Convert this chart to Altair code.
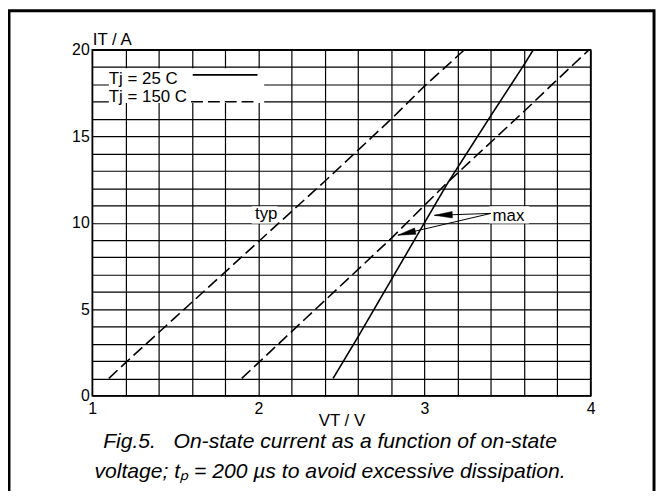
import math
import altair as alt
import pandas as pd

# ---------------- data ----------------
# Tj = 150 C, typical (dashed)
typ150_v = [1.10, 1.20, 1.60, 2.00, 2.40, 2.80, 3.00, 3.24]
typ150_i = [1.0, 1.9, 5.4, 8.9, 12.4, 16.0, 17.9, 20.0]
# Tj = 150 C, maximum (dashed)
max150_v = [1.90, 2.00, 2.20, 2.40, 2.80, 3.13, 3.60, 3.78, 3.99]
max150_i = [1.0, 1.9, 3.7, 5.5, 9.1, 12.25, 16.45, 18.1, 20.0]
# Tj = 25 C, maximum (solid)
max25_v = [2.45, 2.60, 2.80, 3.00, 3.14, 3.40, 3.60, 3.655]
max25_i = [1.0, 3.4, 6.7, 10.0, 12.3, 16.2, 19.15, 20.0]

x_ticks = [round(1 + 0.2 * k, 1) for k in range(16)]
y_ticks = list(range(0, 21))

legend_labels = ["Tj = 25 C", "Tj = 150 C"]
caption_lines = [
    "Fig.5.\u00a0\u00a0\u00a0On-state current as a function of on-state",
    "voltage; t\u209a = 200 \u00b5s to avoid excessive dissipation.",
]

FONT = "Liberation Sans"
W, H = 503, 349
X0, X1, Y0, Y1 = 1.0, 4.0, 0.0, 20.0
PX_V = W / (X1 - X0)
PX_A = H / (Y1 - Y0)

xs = alt.Scale(domain=[X0, X1], nice=False, zero=False)
ys = alt.Scale(domain=[Y0, Y1], nice=False, zero=False)

x_axis = alt.Axis(
    values=x_ticks,
    labelExpr="abs(datum.value - round(datum.value)) < 0.001 ? format(datum.value, 'd') : ''",
    labelFont=FONT, labelFontSize=16, labelColor="black", labelPadding=5,
    labelOverlap=False, labelFlush=False,
    ticks=False, domain=False,
    grid=True, gridColor="black", gridWidth=1.2, gridOpacity=1,
    title="VT / V", titleFont=FONT, titleFontSize=17, titleFontWeight="normal",
    titleColor="black", titlePadding=-4,
)
y_axis = alt.Axis(
    values=y_ticks,
    labelExpr="datum.value % 5 == 0 ? format(datum.value, 'd') : ''",
    labelFont=FONT, labelFontSize=16, labelColor="black", labelPadding=3,
    labelOverlap=False, labelFlush=False,
    ticks=False, domain=False,
    grid=True, gridColor="black", gridWidth=1.2, gridOpacity=1,
    title="IT / A", titleFont=FONT, titleFontSize=17, titleFontWeight="normal",
    titleColor="black", titleAngle=0, titleAlign="left", titleBaseline="alphabetic",
    titleX=0, titleY=-5,
)


def X(f):
    return alt.X(f, scale=xs, axis=x_axis)


def Y(f):
    return alt.Y(f, scale=ys, axis=y_axis)


rows = []
for name, dash, vv, ii in [
    ("typ150", "dashed", typ150_v, typ150_i),
    ("max150", "dashed", max150_v, max150_i),
    ("max25", "solid", max25_v, max25_i),
]:
    for v, i in zip(vv, ii):
        rows.append({"curve": name, "dash": dash, "V": v, "I": i})
curves_df = pd.DataFrame(rows)

# white masks behind texts (cover grid)
mask_df = pd.DataFrame({
    "v1": [1.10, 1.96, 3.39],
    "v2": [2.035, 2.115, 3.63],
    "i1": [16.93, 9.95, 9.95],
    "i2": [18.93, 10.95, 10.95],
})
masks = alt.Chart(mask_df).mark_rect(fill="white").encode(
    x=X("v1:Q"), x2="v2:Q", y=Y("i1:Q"), y2="i2:Q",
)

dash_scale = alt.Scale(domain=["solid", "dashed"], range=[[1, 0], [12, 5]])
lines = alt.Chart(curves_df).mark_line(color="black", strokeWidth=1.6).encode(
    x=X("V:Q"), y=Y("I:Q"), detail="curve:N",
    strokeDash=alt.StrokeDash("dash:N", scale=dash_scale, legend=None),
)

# legend (drawn in data space)
leg_text_df = pd.DataFrame({"label": legend_labels, "v": [1.10, 1.10], "i": [18.0, 17.0]})
leg_text = alt.Chart(leg_text_df).mark_text(
    font=FONT, fontSize=17, align="left", baseline="alphabetic", color="black"
).encode(x=X("v:Q"), y=Y("i:Q"), text="label:N")

leg_line_df = pd.DataFrame({
    "v": [1.605, 1.995, 1.595, 1.99],
    "i": [18.55, 18.55, 17.0, 17.0],
    "item": ["a", "a", "b", "b"],
    "dash": ["solid", "solid", "dashed", "dashed"],
})
leg_dash_scale = alt.Scale(domain=["solid", "dashed"], range=[[1, 0], [14, 7]])
leg_lines = alt.Chart(leg_line_df).mark_line(color="black", strokeWidth=1.6).encode(
    x=X("v:Q"), y=Y("i:Q"), detail="item:N",
    strokeDash=alt.StrokeDash("dash:N", scale=leg_dash_scale, legend=None),
)

# annotations
ann_df = pd.DataFrame({"label": ["typ", "max"], "v": [1.98, 3.41], "i": [10.2, 10.1]})
ann_text = alt.Chart(ann_df).mark_text(
    font=FONT, fontSize=17, align="left", baseline="alphabetic", color="black"
).encode(x=X("v:Q"), y=Y("i:Q"), text="label:N")

arrow_start = (3.40, 10.54)
arrow_tips = [(3.06, 10.43), (2.84, 9.28)]
shaft_rows, head_rows = [], []
for k, (tv, ti) in enumerate(arrow_tips):
    shaft_rows.append({"a": k, "v": arrow_start[0], "i": arrow_start[1]})
    shaft_rows.append({"a": k, "v": tv, "i": ti})
    dx = (tv - arrow_start[0]) * PX_V
    dy = -(ti - arrow_start[1]) * PX_A
    ang = math.degrees(math.atan2(dy, dx)) % 360
    head_rows.append({"v": tv, "i": ti, "ang": ang})
shafts = alt.Chart(pd.DataFrame(shaft_rows)).mark_line(color="black", strokeWidth=1).encode(
    x=X("v:Q"), y=Y("i:Q"), detail="a:N", order="v:Q"
)
heads = alt.Chart(pd.DataFrame(head_rows)).mark_point(
    shape="M0,0 L-2,-0.36 L-2,0.36 Z", size=324, filled=True, fill="black",
    stroke="black", strokeWidth=0.5, opacity=1,
).encode(
    x=X("v:Q"), y=Y("i:Q"), angle=alt.Angle("ang:Q", scale=None),
)

# caption and outer frame (pixel positions relative to plot)
cap_df = pd.DataFrame({"t": caption_lines, "yy": [402, 432]})
caption = alt.Chart(cap_df).mark_text(
    font=FONT, fontSize=21.3, fontStyle="italic", align="center",
    baseline="alphabetic", color="black",
).encode(x=alt.value(240), y=alt.Y("yy:Q", scale=None), text="t:N")

frame = alt.Chart(pd.DataFrame({"k": [0]})).mark_rect(
    fillOpacity=0, stroke="black", strokeWidth=3
).encode(
    x=alt.value(-84), x2=alt.value(567), y=alt.value(-39.5), y2=alt.value(480)
)

chart = alt.layer(
    masks, lines, leg_lines, leg_text, ann_text, shafts, heads, caption, frame
).properties(
    width=W, height=H,
    autosize=alt.AutoSizeParams(type="none"),
    padding={"left": 85, "top": 40, "right": 67, "bottom": 94},
    background="white",
).configure_view(stroke="black", strokeWidth=1.5)

chart.save("out.html", embed_options={"renderer": "svg", "actions": False})
